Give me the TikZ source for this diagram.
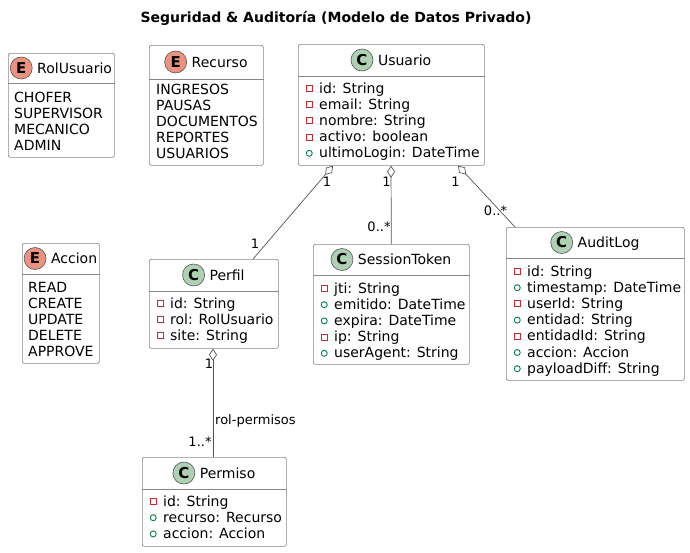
\documentclass[tikz,border=0pt]{standalone}
\usepackage{fontspec}
\setmainfont{DejaVu Sans}
\usetikzlibrary{positioning, arrows.meta}
\definecolor{classgreen}{RGB}{173,209,178}
\definecolor{enumred}{RGB}{235,147,127}
\definecolor{privred}{RGB}{200,41,48}
\definecolor{pubgreen}{RGB}{3,128,72}
\definecolor{boxgray}{RGB}{135,135,135}
\definecolor{linegray}{RGB}{85,85,85}
\tikzset{
classbox/.style={draw=boxgray, line width=0.7pt, rounded corners=2pt, fill=white, anchor=north west, inner sep=0pt}, % one box per class / enum
boxline/.style={draw=boxgray, line width=0.7pt}, % line under the header
classname/.style={font=\fontsize{14}{16}\selectfont, inner sep=0pt, text height=10.2pt, text depth=0pt},
cicon/.style={circle, draw=linegray, line width=0.6pt, fill=classgreen, minimum size=22pt, inner sep=0pt, font=\bfseries\fontsize{15}{15}\selectfont},
eicon/.style={cicon, fill=enumred},
member/.style={font=\fontsize{14}{16}\selectfont, inner sep=0pt, anchor=base west},
agg/.style={draw=linegray, line width=0.7pt, {Diamond[fill=white, length=12pt, width=8pt]}-},
mult/.style={font=\fontsize{13}{15}\selectfont, inner sep=0pt, anchor=base},
titletext/.style={font=\bfseries\fontsize{14}{16}\selectfont, inner sep=0pt, anchor=base}
}
% visibility marks in front of the attributes
\newcommand{\vpriv}{\tikz[baseline=-1.5pt]\draw[privred, line width=0.9pt] (0pt,0pt) rectangle (6pt,6pt);\hspace{6.5pt}}
\newcommand{\vpub}{\tikz[baseline=-1.5pt]\draw[pubgreen, line width=0.9pt] (3pt,3pt) circle[radius=3pt];\hspace{6.5pt}}
% header of a box: node, header height, icon style, letter, name
\newcommand{\umlhead}[5]{%
  \node[classname] (#1-t) at ([xshift=13.25pt, yshift=-#2/2*1pt]#1.north) {#5};
  \node[#3, left=4.5pt of #1-t] (#1-i) {#4};
  \draw[boxline] ([yshift=-#2pt]#1.north west) -- ([yshift=-#2pt]#1.north east);}
% body of a box: node, left offset, lines
\newcommand{\umlmembers}[3]{%
  \foreach \m [count=\k from 0] in {#3}
    \node[member] at ([xshift=#2pt, yshift={-(49+16.2*\k)*1pt}]#1.north west) {\m};}

\begin{document}
\begin{tikzpicture}[x=1pt, y=-1pt]
\useasboundingbox (0,0) rectangle (690,552);

\node[titletext] (title) at (336,22) {Seguridad \& Auditoría (Modelo de Datos Privado)};

% enums
\node[classbox, minimum width=106pt, minimum height=104pt] (rolusuario) at (8,53) {};
\umlhead{rolusuario}{30}{eicon}{E}{RolUsuario}
\umlmembers{rolusuario}{6}{CHOFER, SUPERVISOR, MECANICO, ADMIN}

\node[classbox, minimum width=114pt, minimum height=120pt] (recurso) at (149,45) {};
\umlhead{recurso}{34}{eicon}{E}{Recurso}
\umlmembers{recurso}{7}{INGRESOS, PAUSAS, DOCUMENTOS, REPORTES, USUARIOS}

\node[classbox, minimum width=77pt, minimum height=120pt] (accion) at (22,243) {};
\umlhead{accion}{31}{eicon}{E}{Accion}
\umlmembers{accion}{6}{READ, CREATE, UPDATE, DELETE, APPROVE}

% classes
\node[classbox, minimum width=186pt, minimum height=121pt] (usuario) at (298,44) {};
\umlhead{usuario}{32}{cicon}{C}{Usuario}
\umlmembers{usuario}{7.6}{\vpriv id: String, \vpriv email: String, \vpriv nombre: String, \vpriv activo: boolean, \vpub ultimoLogin: DateTime}

\node[classbox, minimum width=129pt, minimum height=89pt] (perfil) at (149,259) {};
\umlhead{perfil}{32}{cicon}{C}{Perfil}
\umlmembers{perfil}{7.6}{\vpriv id: String, \vpriv rol: RolUsuario, \vpriv site: String}

\node[classbox, minimum width=156pt, minimum height=120pt] (sessiontoken) at (313,244) {};
\umlhead{sessiontoken}{31}{cicon}{C}{SessionToken}
\umlmembers{sessiontoken}{7.6}{\vpriv jti: String, \vpub emitido: DateTime, \vpub expira: DateTime, \vpriv ip: String, \vpub userAgent: String}

\node[classbox, minimum width=178pt, minimum height=153pt] (auditlog) at (506,227) {};
\umlhead{auditlog}{31}{cicon}{C}{AuditLog}
\umlmembers{auditlog}{7.6}{\vpriv id: String, \vpub timestamp: DateTime, \vpriv userId: String, \vpub entidad: String, \vpriv entidadId: String, \vpub accion: Accion, \vpub payloadDiff: String}

\node[classbox, minimum width=144pt, minimum height=89pt] (permiso) at (142,457) {};
\umlhead{permiso}{32}{cicon}{C}{Permiso}
\umlmembers{permiso}{7.6}{\vpriv id: String, \vpub recurso: Recurso, \vpub accion: Accion}

% aggregations
\draw[agg] ([xshift=35pt]usuario.south west) -- ([xshift=104pt]perfil.north west);
\draw[agg] ([xshift=93pt]usuario.south west) -- (sessiontoken.north);
\draw[agg] ([xshift=160pt]usuario.south west) -- ([xshift=9pt]auditlog.north west);
\draw[agg] ([xshift=64pt]perfil.south west) -- ([xshift=71pt]permiso.north west);

% multiplicities
\node[mult] at (327,186.2) {1};
\node[mult] at (255,248) {1};
\node[mult] at (386.5,186.2) {1};
\node[mult] at (379,231.7) {0..*};
\node[mult] at (455.5,186.2) {1};
\node[mult] at (495.5,215.7) {0..*};
\node[mult] at (209,368.7) {1};
\node[mult] at (200,446) {1..*};
\node[mult, anchor=base west] at (215,424) {rol-permisos};
\end{tikzpicture}
\end{document}
